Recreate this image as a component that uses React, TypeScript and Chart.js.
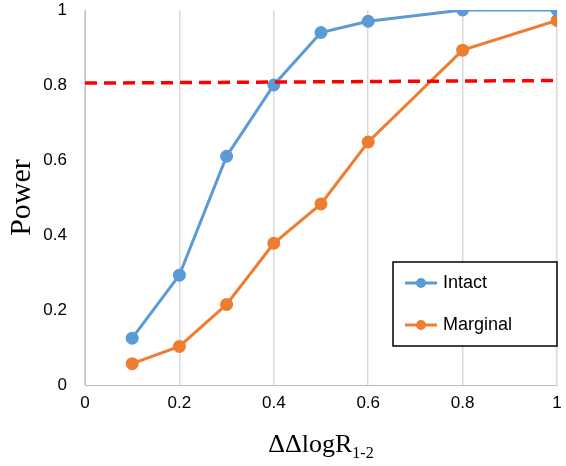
import { useEffect, useRef } from "react";
import Chart from "chart.js/auto";

const xValues = [0.1, 0.2, 0.3, 0.4, 0.5, 0.6, 0.8, 1.0];
const intact = [0.125, 0.293, 0.61, 0.8, 0.94, 0.97, 1.0, 1.0];
const marginal = [0.057, 0.103, 0.215, 0.378, 0.483, 0.648, 0.893, 0.972];
const thresholdX = [0, 1];
const thresholdY = [0.805, 0.812];
const seriesNames = ["Intact", "Marginal"];
const seriesColors = ["#5B9BD5", "#ED7D31"];

const fmt = (v: any) => String(Number(Number(v).toFixed(1)));

const legendBox = {
  id: "legendBox",
  afterDraw(chart: any) {
    const { ctx, chartArea } = chart;
    const w = 164, h = 84;
    const x = chartArea.right - w, y = 262;
    ctx.save();
    ctx.fillStyle = "#fff";
    ctx.fillRect(x, y, w, h);
    ctx.strokeStyle = "#000";
    ctx.lineWidth = 1.5;
    ctx.strokeRect(x, y, w, h);
    seriesNames.forEach((name, i) => {
      const cy = y + 21 + i * 42;
      ctx.strokeStyle = seriesColors[i];
      ctx.lineWidth = 3;
      ctx.beginPath();
      ctx.moveTo(x + 12, cy);
      ctx.lineTo(x + 44, cy);
      ctx.stroke();
      ctx.fillStyle = seriesColors[i];
      ctx.beginPath();
      ctx.arc(x + 28, cy, 5, 0, Math.PI * 2);
      ctx.fill();
      ctx.fillStyle = "#000";
      ctx.font = "18px 'Liberation Sans', Arial, sans-serif";
      ctx.textBaseline = "middle";
      ctx.fillText(name, x + 50, cy);
    });
    const cx = (chartArea.left + chartArea.right) / 2;
    ctx.fillStyle = "#000";
    ctx.textBaseline = "alphabetic";
    const main = "ΔΔlogR";
    ctx.font = "26px 'Liberation Serif', serif";
    const mw = ctx.measureText(main).width;
    ctx.font = "16px 'Liberation Serif', serif";
    const sw = ctx.measureText("1-2").width;
    const sx = cx - (mw + sw) / 2;
    ctx.font = "26px 'Liberation Serif', serif";
    ctx.fillText(main, sx, 452);
    ctx.font = "16px 'Liberation Serif', serif";
    ctx.fillText("1-2", sx + mw, 458);
    ctx.restore();
  },
};

export default function App() {
  const ref = useRef<HTMLCanvasElement | null>(null);
  useEffect(() => {
    document.body.style.margin = "0";
    if (!ref.current) return;
    const chart = new Chart(ref.current, {
      type: "scatter",
      data: {
        datasets: [
          {
            label: "threshold",
            data: thresholdX.map((x, i) => ({ x, y: thresholdY[i] })),
            showLine: true,
            borderColor: "#FF0000",
            borderWidth: 3.5,
            borderDash: [12, 7],
            pointRadius: 0,
          },
          {
            label: seriesNames[0],
            data: xValues.map((x, i) => ({ x, y: intact[i] })),
            showLine: true,
            borderColor: seriesColors[0],
            backgroundColor: seriesColors[0],
            borderWidth: 3,
            pointRadius: 5,
          },
          {
            label: seriesNames[1],
            data: xValues.map((x, i) => ({ x, y: marginal[i] })),
            showLine: true,
            borderColor: seriesColors[1],
            backgroundColor: seriesColors[1],
            borderWidth: 3,
            pointRadius: 5,
          },
        ],
      },
      options: {
        animation: false,
        responsive: false,
        layout: { padding: { top: 0, right: 0, left: 0, bottom: 0 } },
        plugins: { legend: { display: false }, tooltip: { enabled: false } },
        scales: {
          x: {
            type: "linear",
            min: 0,
            max: 1,
            ticks: { stepSize: 0.2, callback: fmt, color: "#000", font: { size: 17, family: "'Liberation Sans', Arial" }, padding: 8 },
            grid: { color: "#d9d9d9", lineWidth: 1.5, drawTicks: false },
            border: { color: "#bfbfbf" },
            afterFit: (s: any) => { s.height = 81; s.paddingRight = 9; },
          },
          y: {
            min: 0,
            max: 1,
            ticks: { stepSize: 0.2, callback: fmt, color: "#000", font: { size: 17, family: "'Liberation Sans', Arial" }, padding: 10 },
            grid: { display: false },
            border: { color: "#bfbfbf" },
            title: { display: true, text: "Power", color: "#000", font: { size: 30, family: "'Liberation Serif', serif" } },
            afterFit: (s: any) => { s.width = 85; s.paddingTop = 10; },
          },
        },
      },
      plugins: [legendBox],
    } as any);
    return () => chart.destroy();
  }, []);
  return <canvas ref={ref} width={566} height={466} style={{ display: "block" }} />;
}
